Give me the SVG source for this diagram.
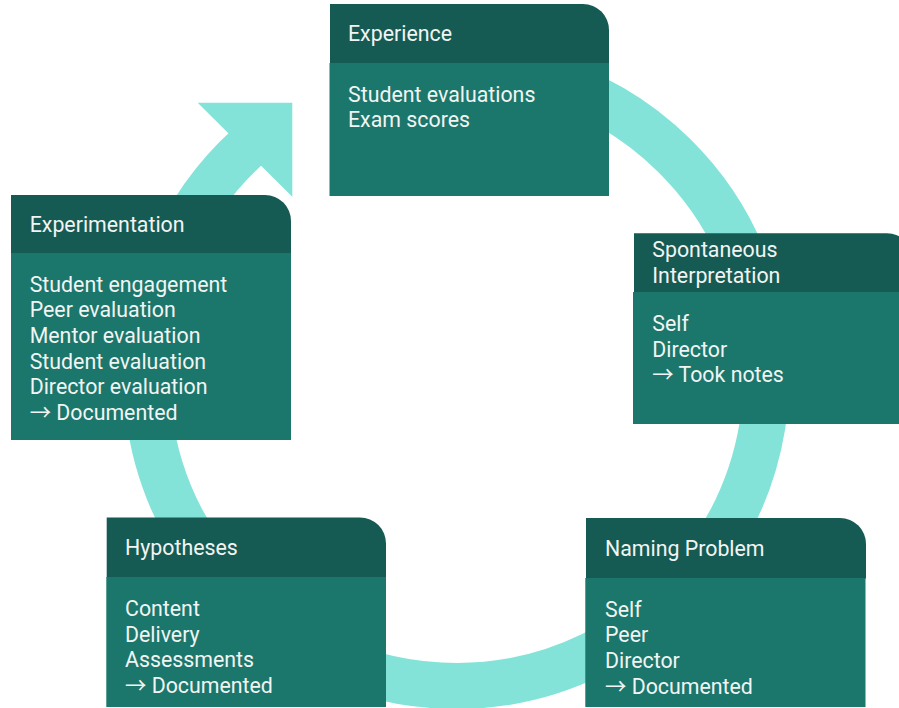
<svg xmlns="http://www.w3.org/2000/svg" width="899" height="708" viewBox="0 0 899 708">
  <style>
    .hdr { fill: #165b53; }
    .body { fill: #1b776c; }
    .ring { fill: none; stroke: #84e3d9; stroke-width: 46; }
    .head { fill: #84e3d9; }
    text { font-family: Roboto, "Liberation Sans", sans-serif; font-size: 21.33px; fill: #f2f4f3; }
    .arr { font-family: "Noto Sans CJK SC", sans-serif; }
  </style>
  <rect width="899" height="708" fill="#ffffff"/>
  <g id="connectors">
    <path class="ring" d="M402.6,70.7 A310,310 0 1 1 249.0,145.6"/>
    <polygon class="head" points="197.7,102.7 292.3,102.7 292.3,196.7"/>
  </g>
  <g id="experience">
    <path class="hdr" d="M330,4 H583 A26,26 0 0 1 609,30 V63.5 H330 Z"/>
    <rect class="body" x="329.5" y="63" width="279.5" height="133"/>
    <text x="348" y="41">Experience</text>
    <text x="348" y="101.7">Student evaluations</text>
    <text x="348" y="127.3">Exam scores</text>
  </g>
  <g id="spontaneous-interpretation">
    <path class="hdr" d="M634,233.3 H887 A26,26 0 0 1 913,259.3 V292.5 H634 Z"/>
    <rect class="body" x="633" y="292" width="280" height="132"/>
    <text x="652.3" y="257.3">Spontaneous</text>
    <text x="652.3" y="282.9">Interpretation</text>
    <text x="652.3" y="331">Self</text>
    <text x="652.3" y="356.6">Director</text>
    <text x="652.3" y="382.2"><tspan class="arr">→</tspan> Took notes</text>
  </g>
  <g id="experimentation">
    <path class="hdr" d="M11,195 H265 A26,26 0 0 1 291,221 V253.5 H11 Z"/>
    <rect class="body" x="11" y="253" width="280" height="187"/>
    <text x="29.7" y="231.5">Experimentation</text>
    <text x="29.7" y="291.7">Student engagement</text>
    <text x="29.7" y="317.3">Peer evaluation</text>
    <text x="29.7" y="342.9">Mentor evaluation</text>
    <text x="29.7" y="368.5">Student evaluation</text>
    <text x="29.7" y="394.1">Director evaluation</text>
    <text x="29.7" y="419.7"><tspan class="arr">→</tspan> Documented</text>
  </g>
  <g id="hypotheses">
    <path class="hdr" d="M106.7,517.5 H360 A26,26 0 0 1 386,543.5 V577.5 H106.7 Z"/>
    <rect class="body" x="106.3" y="577" width="279.7" height="130"/>
    <text x="125" y="554.6">Hypotheses</text>
    <text x="125" y="615.9">Content</text>
    <text x="125" y="641.5">Delivery</text>
    <text x="125" y="667.1">Assessments</text>
    <text x="125" y="692.7"><tspan class="arr">→</tspan> Documented</text>
  </g>
  <g id="naming-problem">
    <path class="hdr" d="M586,518 H840 A26,26 0 0 1 866,544 V578.5 H586 Z"/>
    <rect class="body" x="585.3" y="578" width="280.2" height="129"/>
    <text x="605" y="555.7">Naming Problem</text>
    <text x="605" y="616.7">Self</text>
    <text x="605" y="642.3">Peer</text>
    <text x="605" y="667.9">Director</text>
    <text x="605" y="693.5"><tspan class="arr">→</tspan> Documented</text>
  </g>
</svg>
